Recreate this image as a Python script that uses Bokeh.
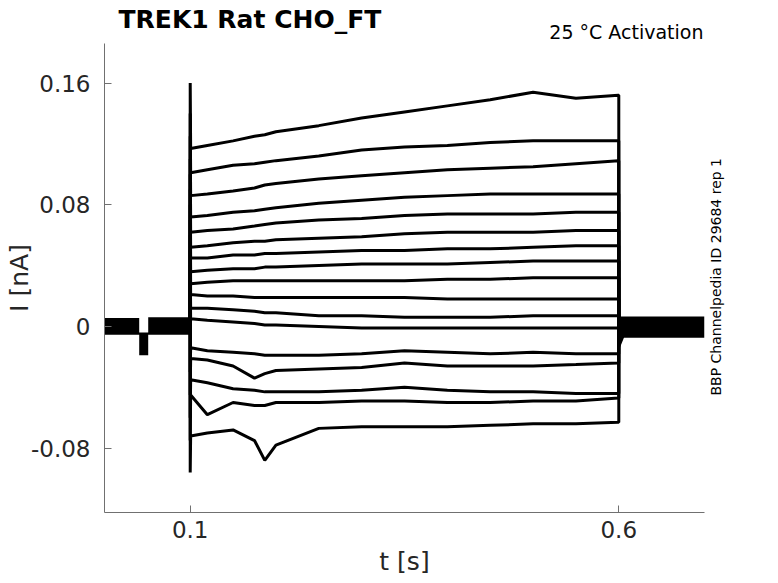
import math
from bokeh.plotting import figure
from bokeh.models import Range1d, FixedTicker, Title, LinearAxis
from bokeh.embed import file_html
from bokeh.resources import INLINE

# ---- data (I in nA, t in s) ----
step_t = [0.1005, 0.12, 0.15, 0.175, 0.187, 0.2, 0.25, 0.3, 0.35, 0.4, 0.45, 0.5, 0.55, 0.5995]

trace_01 = [0.117, 0.119, 0.122, 0.125, 0.126, 0.128, 0.132, 0.137, 0.141, 0.145, 0.149, 0.154, 0.150, 0.152]
trace_02 = [0.101, 0.103, 0.106, 0.107, 0.108, 0.109, 0.112, 0.116, 0.118, 0.119, 0.121, 0.122, 0.122, 0.122]
trace_03 = [0.086, 0.087, 0.089, 0.091, 0.093, 0.094, 0.097, 0.099, 0.101, 0.103, 0.104, 0.105, 0.107, 0.109]
trace_04 = [0.072, 0.073, 0.075, 0.076, 0.077, 0.078, 0.081, 0.083, 0.085, 0.086, 0.087, 0.087, 0.087, 0.087]
trace_05 = [0.062, 0.063, 0.064, 0.066, 0.067, 0.068, 0.070, 0.071, 0.073, 0.074, 0.074, 0.074, 0.075, 0.075]
trace_06 = [0.052, 0.053, 0.055, 0.056, 0.056, 0.057, 0.058, 0.059, 0.061, 0.062, 0.062, 0.062, 0.063, 0.063]
trace_07 = [0.045, 0.045, 0.047, 0.047, 0.048, 0.048, 0.049, 0.050, 0.050, 0.051, 0.051, 0.052, 0.053, 0.053]
trace_08 = [0.036, 0.037, 0.038, 0.038, 0.039, 0.039, 0.040, 0.041, 0.041, 0.041, 0.042, 0.043, 0.043, 0.043]
trace_09 = [0.028, 0.029, 0.030, 0.030, 0.030, 0.030, 0.030, 0.030, 0.030, 0.031, 0.031, 0.032, 0.032, 0.032]
trace_10 = [0.021, 0.020, 0.020, 0.019, 0.019, 0.019, 0.019, 0.019, 0.019, 0.018, 0.018, 0.018, 0.018, 0.018]
trace_11 = [0.012, 0.012, 0.011, 0.010, 0.009, 0.009, 0.007, 0.007, 0.006, 0.006, 0.006, 0.007, 0.007, 0.007]
trace_12 = [0.005, 0.004, 0.003, 0.002, 0.001, 0.001, 0.000, -0.001, -0.001, -0.001, -0.001, -0.001, -0.001, -0.001]
trace_13 = [-0.014, -0.016, -0.017, -0.018, -0.019, -0.019, -0.019, -0.018, -0.016, -0.017, -0.018, -0.017, -0.018, -0.018]
trace_14 = [-0.021, -0.022, -0.026, -0.034, -0.031, -0.029, -0.028, -0.027, -0.024, -0.026, -0.026, -0.026, -0.025, -0.024]
trace_15 = [-0.035, -0.037, -0.041, -0.042, -0.043, -0.043, -0.043, -0.042, -0.040, -0.042, -0.043, -0.043, -0.044, -0.044]
trace_16 = [-0.045, -0.058, -0.050, -0.052, -0.052, -0.050, -0.050, -0.049, -0.049, -0.050, -0.050, -0.049, -0.049, -0.047]
trace_17 = [-0.072, -0.070, -0.068, -0.075, -0.088, -0.078, -0.067, -0.066, -0.066, -0.066, -0.065, -0.064, -0.064, -0.063]

spike_peak = [0.160, 0.140, 0.125, 0.110, 0.100, 0.090, 0.080, 0.070, 0.060,
              0.050, 0.040, 0.030, -0.030, -0.045, -0.060, -0.075, -0.096]

# holding-current band before and after the step
pre_t = [0.0, 0.0405, 0.0405, 0.051, 0.051, 0.1]
pre_lo = [-0.0055, -0.0055, -0.019, -0.019, -0.0055, -0.0055]
pre_hi = [0.0055, 0.0055, -0.004, -0.004, 0.0060, 0.0060]
post_t = [0.6, 0.602, 0.606, 0.7]
post_lo = [-0.016, -0.013, -0.0075, -0.0075]
post_hi = [0.0065, 0.0065, 0.0065, 0.0065]

x_ticks = [0.1, 0.6]
y_ticks = [-0.08, 0, 0.08, 0.16]
y_tick_labels = {-0.08: "-0.08", 0: "0", 0.08: "0.08", 0.16: "0.16"}
x_tick_labels = {0.1: "0.1", 0.6: "0.6"}

title_text = "TREK1  Rat  CHO_FT"
cond_text = "25 \u00b0C  Activation"
id_text = "BBP Channelpedia ID 29684 rep 1"

traces = [trace_01, trace_02, trace_03, trace_04, trace_05, trace_06, trace_07,
          trace_08, trace_09, trace_10, trace_11, trace_12, trace_13, trace_14,
          trace_15, trace_16, trace_17]

FONT = "DejaVu Sans"
TXT = "#262626"
AX = "#707070"

p = figure(width=776, height=582, output_backend="svg", toolbar_location=None,
           title=None,
           x_range=Range1d(0.0, 0.7), y_range=Range1d(-0.1223, 0.186),
           min_border_left=104, min_border_right=72, min_border_top=43,
           min_border_bottom=70)
p.outline_line_color = None
p.grid.visible = False
p.background_fill_color = "white"
p.border_fill_color = "white"

# titles: condition row next to the frame, main title above it
cond_title = Title(text=cond_text, align="right", offset=1, standoff=1,
                   text_font=FONT, text_font_size="19px", text_font_style="normal",
                   text_color="#000000")
try:
    cond_title.offset = -5
except Exception:
    pass
main_title = Title(text=title_text, align="left", offset=14, standoff=0,
                   text_font=FONT, text_font_size="25px", text_font_style="bold",
                   text_color="#000000")
try:
    main_title.standoff = -30
except Exception:
    pass
p.add_layout(cond_title, "above")
p.add_layout(main_title, "above")

# band of overlapping holding currents
p.varea(x=pre_t, y1=pre_lo, y2=pre_hi, fill_color="black")
p.varea(x=post_t, y1=post_lo, y2=post_hi, fill_color="black")

xs, ys = [], []
for vals, pk in zip(traces, spike_peak):
    xs.append([0.1, 0.1] + step_t + [0.6, 0.6])
    ys.append([0.0, pk] + vals + [vals[-1], 0.0])
p.multi_line(xs=xs, ys=ys, line_color="black", line_width=3.0)

for ax in (p.xaxis[0], p.yaxis[0]):
    ax.axis_line_color = AX
    ax.major_tick_line_color = AX
    ax.major_tick_in = 7
    ax.major_tick_out = 0
    ax.minor_tick_line_color = None
    ax.major_label_text_font = FONT
    ax.major_label_text_font_size = "23px"
    ax.major_label_text_color = TXT
    ax.axis_label_text_font = FONT
    ax.axis_label_text_font_size = "25px"
    ax.axis_label_text_font_style = "normal"
    ax.axis_label_text_color = TXT

p.xaxis.ticker = FixedTicker(ticks=x_ticks)
p.yaxis.ticker = FixedTicker(ticks=y_ticks)
p.xaxis.major_label_overrides = x_tick_labels
p.yaxis.major_label_overrides = y_tick_labels
p.xaxis.axis_label = "t [s]"
p.yaxis.axis_label = "I [nA]"
p.xaxis.major_label_standoff = 8
p.yaxis.major_label_standoff = 14
p.xaxis.axis_label_standoff = 6
p.yaxis.axis_label_standoff = -6

# right-hand side note (reads bottom to top): a single rotated label on a bare
# right axis, starting at the height where the reference text starts
ID_START = -0.0454
id_axis = LinearAxis(ticker=FixedTicker(ticks=[ID_START]),
                     major_label_overrides={ID_START: id_text},
                     major_label_orientation=math.pi / 2,
                     major_label_standoff=6,
                     major_label_text_font=FONT,
                     major_label_text_font_size="14px",
                     major_label_text_color="#000000",
                     axis_line_color=None, major_tick_line_color=None,
                     minor_tick_line_color=None)
p.add_layout(id_axis, "right")

open("out.html", "w").write(file_html(p, INLINE))
